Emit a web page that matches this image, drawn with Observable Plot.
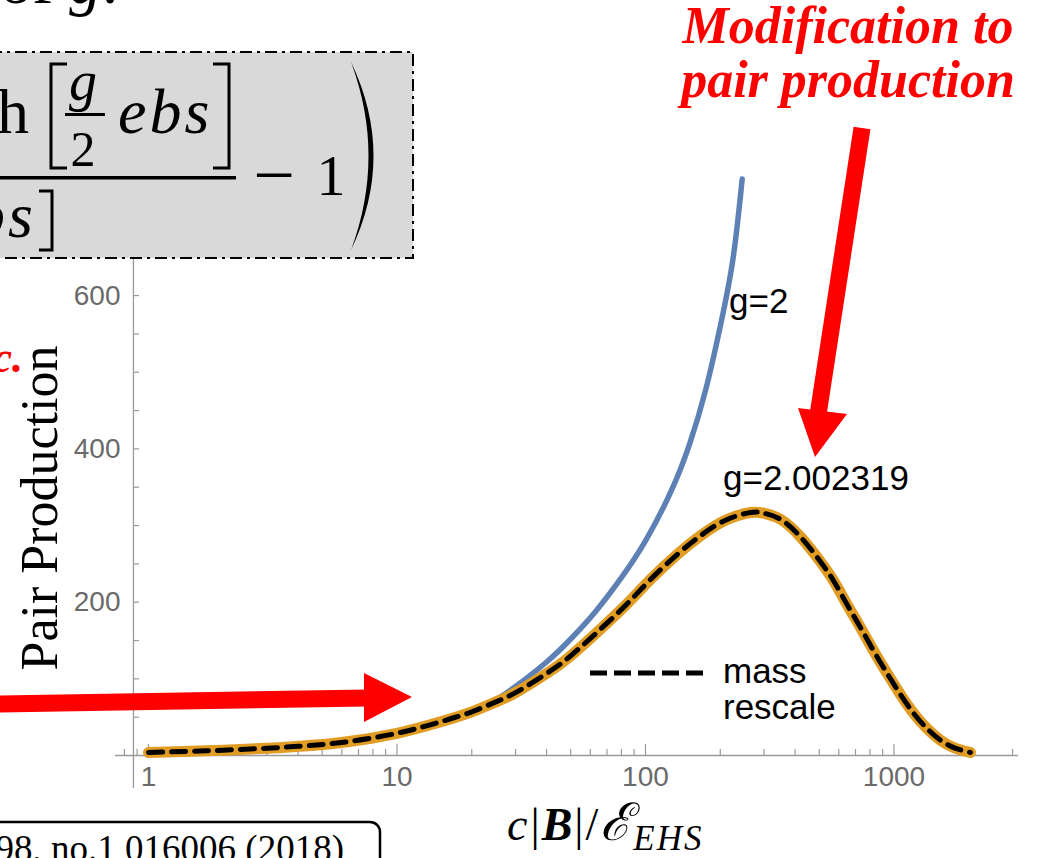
<!DOCTYPE html>
<html><head><meta charset="utf-8">
<script src="https://cdn.jsdelivr.net/npm/d3@7"></script>
<script src="https://cdn.jsdelivr.net/npm/@observablehq/plot@0.6"></script>
<style>
html,body{margin:0;padding:0;background:#fff;overflow:hidden}
#wrap{position:relative;width:1038px;height:858px;overflow:hidden;background:#fff}
#wrap svg{position:absolute;left:0;top:0}
</style></head><body><div id="wrap"></div>
<script>
// ---- data ----
const fieldG2 = [1, 1.5, 2, 3, 4, 6, 10, 15, 20, 25, 30, 40, 50, 63, 80, 100, 126, 150, 175, 200, 225, 245];
const pairG2  = [4, 5.5, 7, 9.5, 12, 17, 29, 44, 58, 73, 90, 122, 152, 188, 232, 280, 343, 405, 478, 560, 648, 752];
const fieldGc = [1, 1.5, 2, 3, 4, 6, 10, 15, 20, 25, 30, 40, 50, 66, 85, 105, 135, 167, 210, 265, 300, 350, 421, 500, 571, 650, 733, 830, 939, 1060, 1200, 1360, 1538, 1750, 2030];
const pairGc  = [4, 5.5, 7, 9.5, 12, 17, 29, 44, 57, 70, 82, 107, 130, 165, 199, 230, 263, 287, 307, 317, 316, 308, 285, 255, 228, 196, 167, 136, 107, 80, 55, 35, 20, 10, 4];
const pairMassRescale = pairGc; // dashed curve coincides with g=2.002319
const xMajorTicks = [1, 10, 100, 1000];
const xMinorTicks = [0.8, 0.9, 2, 3, 4, 5, 6, 7, 8, 9, 20, 30, 40, 50, 60, 70, 80, 90, 200, 300, 400, 500, 600, 700, 800, 900, 2000, 3000];
const yMajorTicks = [200, 400, 600];
const yAllTicks = [50, 100, 150, 200, 250, 300, 350, 400, 450, 500, 550, 600, 650, 700, 750];
const seriesLabels = ["g=2", "g=2.002319"];
const legendLabel = ["mass", "rescale"];

const g2 = fieldG2.map((x, i) => ({x, y: pairG2[i]}));
const gc = fieldGc.map((x, i) => ({x, y: pairGc[i]}));
const mr = fieldGc.map((x, i) => ({x, y: pairMassRescale[i]}));

const yAxisAt = 0.87;
const axisGray = "#9a9a9a";

const chart = Plot.plot({
  width: 1038, height: 858,
  marginLeft: 115, marginRight: 20, marginTop: 100, marginBottom: 103,
  x: {type: "log", domain: [0.7367, 3170], axis: null},
  y: {domain: [0, 854.5], axis: null},
  style: {background: "transparent", overflow: "visible", fontFamily: "'Liberation Sans', Arial, sans-serif"},
  marks: [
    Plot.ruleY([0], {stroke: axisGray, strokeWidth: 1.3}),
    Plot.ruleX([yAxisAt], {y1: -43, y2: 854.5, stroke: axisGray, strokeWidth: 1.3}),
    Plot.axisX(xMajorTicks, {anchor: "bottom", label: null, tickSize: -11, tickFormat: () => "", stroke: axisGray, strokeWidth: 1.2}),
    Plot.axisX(xMinorTicks, {anchor: "bottom", label: null, tickSize: -6, tickFormat: () => "", stroke: axisGray, strokeWidth: 1.2}),
    Plot.axisX(xMajorTicks, {anchor: "bottom", label: null, tickSize: 0, tickPadding: 11, fontSize: 28, color: "#6a6a6a", tickFormat: d => String(d)}),
    Plot.axisY(yAllTicks, {anchor: "left", label: null, tickSize: -6, dx: 18, tickFormat: () => "", stroke: axisGray, strokeWidth: 1.2}),
    Plot.axisY(yMajorTicks, {anchor: "left", label: null, tickSize: 0, tickPadding: 0, dx: 5, fontSize: 28, color: "#6a6a6a", tickFormat: d => String(d)}),
    Plot.line(g2, {x: "x", y: "y", stroke: "#5E81B5", strokeWidth: 5.5, curve: "natural"}),
    Plot.line(gc, {x: "x", y: "y", stroke: "#E19C24", strokeWidth: 11, curve: "natural"}),
    Plot.line(mr, {x: "x", y: "y", stroke: "#000", strokeWidth: 5, strokeDasharray: "14,9", curve: "natural"})
  ]
});
const wrap = document.getElementById("wrap");
wrap.appendChild(chart);

// ---- slide overlay (annotations) ----
const ns = "http://www.w3.org/2000/svg";
const ov = document.createElementNS(ns, "svg");
ov.setAttribute("width", 1038); ov.setAttribute("height", 858);
ov.innerHTML = `
<g font-family="'Liberation Sans', Arial, sans-serif" font-size="35" fill="#000">
  <text x="729" y="313">${seriesLabels[0]}</text>
  <text x="723" y="490">${seriesLabels[1]}</text>
  <text x="723" y="683">${legendLabel[0]}</text>
  <text x="723" y="719">${legendLabel[1]}</text>
</g>
<line x1="590" x2="703" y1="673" y2="673" stroke="#000" stroke-width="5" stroke-dasharray="17,7"/>
<text transform="translate(57,508) rotate(-90)" text-anchor="middle" font-family="'Liberation Serif', 'Times New Roman', serif" font-size="52" fill="#000">Pair Production</text>
<text x="507" y="840" font-family="'Liberation Serif', 'DejaVu Serif', serif" font-size="46" fill="#000"><tspan font-style="italic">c</tspan><tspan dx="3">|</tspan><tspan font-weight="bold" font-style="italic" dx="2">B</tspan><tspan dx="2">|</tspan><tspan dx="2">/</tspan><tspan font-family="'DejaVu Serif', serif" font-style="italic" font-size="52" dx="2">ℰ</tspan><tspan font-style="italic" font-size="35" dx="2" dy="10" letter-spacing="2">EHS</tspan></text>

<!-- formula box -->
<rect x="-10" y="52" width="423" height="206" fill="#d9d9d9" stroke="#000" stroke-width="2" stroke-dasharray="12,5,3,5"/>
<g font-family="'Liberation Serif', 'Times New Roman', serif" fill="#000">
  <text x="29" y="133" font-size="64" text-anchor="end">tanh</text>
  <path d="M67,64 L51,64 L51,168 L67,168" fill="none" stroke="#000" stroke-width="3"/>
  <text x="83" y="100" font-size="56" font-style="italic" text-anchor="middle">g</text>
  <rect x="65" y="113" width="40" height="3"/>
  <text x="83" y="166" font-size="50" text-anchor="middle">2</text>
  <text x="118" y="133" font-size="64" font-style="italic" letter-spacing="3">ebs</text>
  <path d="M213,64 L229,64 L229,168 L213,168" fill="none" stroke="#000" stroke-width="3"/>
  <rect x="-5" y="176" width="241" height="3.5"/>
  <text x="36" y="237" font-size="64" font-style="italic" text-anchor="end" letter-spacing="3">ebs</text>
  <path d="M39,191 L52,191 L52,250 L39,250" fill="none" stroke="#000" stroke-width="3"/>
  <text x="274" y="200" font-size="74" text-anchor="middle">−</text>
  <text x="331" y="195" font-size="58" text-anchor="middle">1</text>
  <path d="M351,62 Q396,156 351,250 Q386,156 351,62 Z" fill="#000"/>
  <text x="0" y="3" font-size="64">of <tspan font-style="italic">g</tspan>:</text>
</g>

<!-- red slide text -->
<g font-family="'Liberation Serif', 'Times New Roman', serif" font-weight="bold" font-style="italic" fill="#ff0000">
  <text x="848" y="43" font-size="52" text-anchor="middle">Modification to</text>
  <text x="848" y="97" font-size="52" text-anchor="middle">pair production</text>
  <text x="23" y="372" font-size="44" text-anchor="end">etc.</text>
</g>
<!-- red arrows -->
<line x1="862" y1="128" x2="818" y2="415" stroke="#ff0000" stroke-width="17"/>
<polygon points="798,408 847,414 815,457" fill="#ff0000"/>
<line x1="-5" y1="704" x2="368" y2="698" stroke="#ff0000" stroke-width="17"/>
<polygon points="364,673 364,722 412,697" fill="#ff0000"/>

<!-- citation box -->
<rect x="-20" y="822" width="400" height="70" rx="10" fill="#fff" stroke="#000" stroke-width="2.5"/>
<text x="344" y="861" text-anchor="end" font-family="'Liberation Serif', 'Times New Roman', serif" font-size="37" fill="#000">Phys. Rev. D 98, no.1 016006 (2018)</text>
`;
wrap.appendChild(ov);
</script>
</body></html>
